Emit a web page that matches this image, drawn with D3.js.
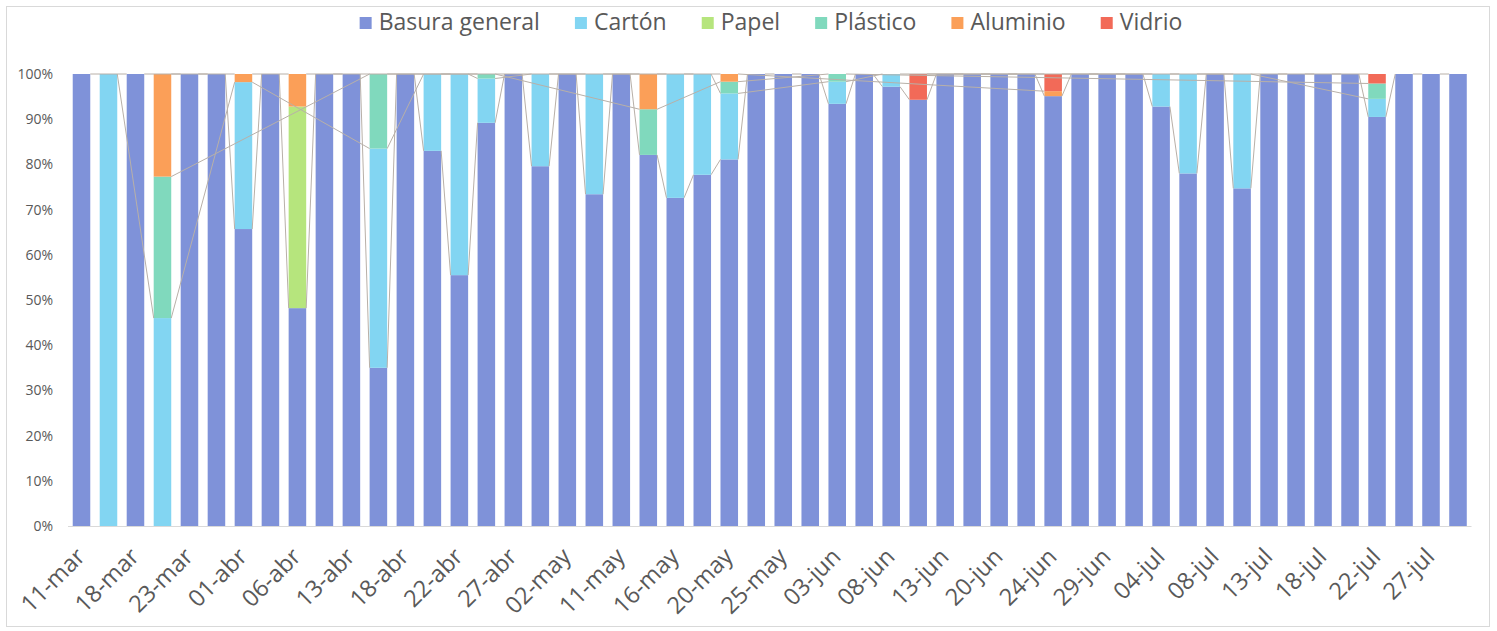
<!DOCTYPE html>
<html>
<head>
<meta charset="utf-8">
<script src="https://cdn.jsdelivr.net/npm/d3@7/dist/d3.min.js"></script>
<style>
  html, body { margin: 0; padding: 0; background: #ffffff; }
  svg { display: block; }
  text { font-family: "Open Sans", "Noto Sans", sans-serif; fill: #595959; }
</style>
</head>
<body>
<svg id="chart" width="1497" height="631"></svg>
<script>
// ---- Data (percent of total per collection day) ----
const categories = [
  "11-mar","13-mar","18-mar","20-mar","23-mar","25-mar","01-abr","03-abr","06-abr","08-abr",
  "13-abr","15-abr","18-abr","20-abr","22-abr","24-abr","27-abr","29-abr","02-may","06-may",
  "11-may","13-may","16-may","18-may","20-may","22-may","25-may","27-may","03-jun","05-jun",
  "08-jun","10-jun","13-jun","15-jun","20-jun","22-jun","24-jun","26-jun","29-jun","01-jul",
  "04-jul","06-jul","08-jul","10-jul","13-jul","15-jul","18-jul","20-jul","22-jul","24-jul",
  "27-jul","29-jul"
];
const seriesNames = ["Basura general","Cartón","Papel","Plástico","Aluminio","Vidrio"];
const seriesColors = ["#7f92d9","#82d5f2","#b6e57d","#80d9bd","#fb9f58","#f26a58"];

const basura = [100,0,100,0,100,100,65.7,100,48.2,100, 100,35,100,83,55.5,89.2,100,79.6,100,73.4,
  100,82.1,72.6,77.7,81.1,100,100,100,93.4,100, 97.2,94.3,100,100,100,100,95.1,100,100,100,
  92.8,78,100,74.7,100,100,100,100,90.5,100, 100,100];
const carton = [0,100,0,46,0,0,32.5,0,0,0, 0,48.5,0,17,44.5,9.8,0,20.4,0,26.6,
  0,0,27.4,22.3,14.6,0,0,0,4.9,0, 2.8,0,0,0,0,0,0,0,0,0,
  7.2,22,0,25.3,0,0,0,0,4,0, 0,0];
const papel = [0,0,0,0,0,0,0,0,44.6,0, 0,0,0,0,0,0,0,0,0,0,
  0,0,0,0,0,0,0,0,0,0, 0,0,0,0,0,0,0,0,0,0,
  0,0,0,0,0,0,0,0,0,0, 0,0];
const plastico = [0,0,0,31.3,0,0,0,0,0,0, 0,16.5,0,0,0,1,0,0,0,0,
  0,10.1,0,0,2.6,0,0,0,1.7,0, 0,0,0,0,0,0,0,0,0,0,
  0,0,0,0,0,0,0,0,3.4,0, 0,0];
const aluminio = [0,0,0,22.7,0,0,1.8,0,7.2,0, 0,0,0,0,0,0,0,0,0,0,
  0,7.8,0,0,1.7,0,0,0,0,0, 0,0,0,0,0,0,1.1,0,0,0,
  0,0,0,0,0,0,0,0,0,0, 0,0];
const vidrio = [0,0,0,0,0,0,0,0,0,0, 0,0,0,0,0,0,0,0,0,0,
  0,0,0,0,0,0,0,0,0,0, 0,5.7,0,0,0,0,3.8,0,0,0,
  0,0,0,0,0,0,0,0,2.1,0, 0,0];
const yTicks = [0,0.1,0.2,0.3,0.4,0.5,0.6,0.7,0.8,0.9,1];

// ---- Build table ----
const seriesArrays = [basura, carton, papel, plastico, aluminio, vidrio];
const rows = categories.map((c, i) => {
  const r = { cat: c };
  const tot = d3.sum(seriesArrays, a => a[i]);
  seriesNames.forEach((s, k) => r[s] = seriesArrays[k][i] / tot);
  return r;
});
const stacked = d3.stack().keys(seriesNames)(rows);

// ---- Layout ----
const svg = d3.select("#chart");
const W = 1497, H = 631;
const margin = { left: 68, right: 1497 - 1471.5, top: 74, bottom: 631 - 526 };

// outer frame
svg.append("rect").attr("x", 6.5).attr("y", 6.5).attr("width", 1483).attr("height", 620)
  .attr("fill", "none").attr("stroke", "#d9d9d9").attr("stroke-width", 1);

const x = d3.scaleBand().domain(categories).range([margin.left, W - margin.right])
  .paddingInner(0.35).paddingOuter(0.175);
const y = d3.scaleLinear().domain([0, 1]).range([H - margin.bottom, margin.top]);

// bars
const g = svg.append("g");
g.selectAll("g.series").data(stacked).join("g")
  .attr("class", "series")
  .attr("fill", (d, k) => seriesColors[k])
  .selectAll("rect").data(d => d.filter(p => p[1] - p[0] > 0)).join("rect")
  .attr("x", d => x(d.data.cat))
  .attr("width", x.bandwidth())
  .attr("y", d => y(d[1]))
  .attr("height", d => y(d[0]) - y(d[1]));

// series lines (connect tops of each series between bars where it is present)
const lineG = svg.append("g").attr("fill", "none").attr("stroke", "#b8b0a8").attr("stroke-width", 1);
stacked.forEach(s => {
  const present = s.filter(p => p[1] - p[0] > 0);
  for (let i = 0; i < present.length - 1; i++) {
    const a = present[i], b = present[i + 1];
    lineG.append("line")
      .attr("x1", x(a.data.cat) + x.bandwidth()).attr("y1", y(a[1]))
      .attr("x2", x(b.data.cat)).attr("y2", y(b[1]));
  }
});

// x axis
const xAxis = d3.axisBottom(x)
  .tickValues(categories.filter((d, i) => i % 2 === 0))
  .tickSize(0).tickPadding(0);
const xg = svg.append("g").attr("transform", `translate(0,${H - margin.bottom})`).call(xAxis);
xg.select(".domain").attr("stroke", "#d9d9d9").attr("d", `M${margin.left},0.5H${W - margin.right}`);
xg.selectAll(".tick text")
  .attr("font-family", "Open Sans, sans-serif")
  .attr("font-size", 23.5).attr("fill", "#595959")
  .attr("text-anchor", "end")
  .attr("dy", null).attr("y", 0)
  .attr("transform", "translate(5,32) rotate(-45)");

// y axis
const yAxis = d3.axisLeft(y).tickValues(yTicks).tickFormat(d3.format(".0%")).tickSize(0).tickPadding(0);
const yg = svg.append("g").attr("transform", `translate(53,0)`).call(yAxis);
yg.select(".domain").remove();
yg.selectAll(".tick text").attr("font-family", "Open Sans, sans-serif")
  .attr("font-size", 14).attr("fill", "#595959");

// legend
const leg = svg.append("g");
const items = leg.selectAll("g").data(seriesNames).join("g");
items.append("rect").attr("width", 12).attr("height", 12).attr("y", -13)
  .attr("fill", (d, k) => seriesColors[k]);
items.append("text").attr("x", 19).attr("y", 0).attr("font-size", 23)
  .attr("fill", "#595959").text(d => d);
const widths = [];
items.each(function (d) {
  widths.push(19 + this.querySelector("text").getComputedTextLength());
});
const gap = 35;
const total = d3.sum(widths) + gap * (widths.length - 1);
const start = 771 - total / 2;
items.attr("transform", (d, k) => {
  const tx = start + d3.sum(widths.slice(0, k)) + gap * k;
  return `translate(${tx},30)`;
});
</script>
</body>
</html>
